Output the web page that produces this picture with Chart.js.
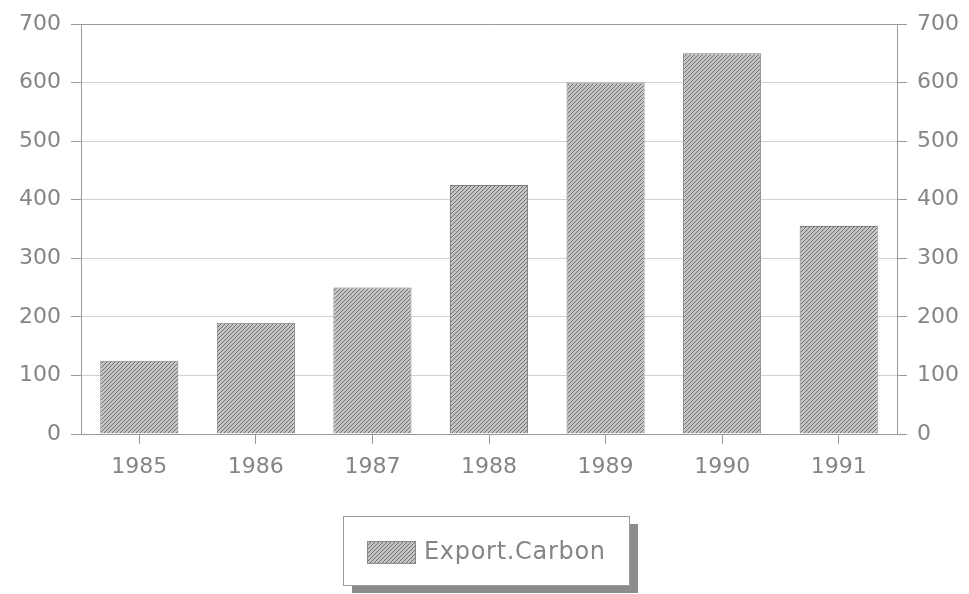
<!DOCTYPE html>
<html>
<head>
<meta charset="utf-8">
<script src="https://cdn.jsdelivr.net/npm/chart.js@4"></script>
<style>
  html, body { margin: 0; padding: 0; background: #fff; }
  #wrap { width: 969px; height: 594px; }
</style>
</head>
<body>
<div id="wrap"><canvas id="chart" width="969" height="594"></canvas></div>
<script>
const years = ["1985", "1986", "1987", "1988", "1989", "1990", "1991"];
const exportCarbon = [125, 190, 250, 425, 600, 650, 355];
const seriesName = "Export.Carbon";
const axisMax = 700;
const axisStep = 100;

const TEXT = "#858585";
const FONT = "DejaVu Sans";

// diagonal hatch used for the bars and the legend swatch
function makeHatch() {
    const c = document.createElement("canvas");
    c.width = 4;
    c.height = 4;
    const g = c.getContext("2d");
    for (let x = 0; x < 4; x++) {
        for (let y = 0; y < 4; y++) {
            g.fillStyle = (x + y) % 4 === 0 ? "#6c6c6c" : "#c6c6c6";
            g.fillRect(x, y, 1, 1);
        }
    }
    return g.createPattern(c, "repeat");
}
const hatch = makeHatch();

// boxed legend with a drop shadow, centred under the plot
const boxLegend = {
    id: "boxLegend",
    afterDraw(chart) {
        const ctx = chart.ctx;
        const x = 343, y = 516, w = 286, h = 69;
        ctx.save();
        ctx.fillStyle = "#8c8c8c";
        ctx.fillRect(x + 9, y + 8, w, h);
        ctx.fillStyle = "#fff";
        ctx.fillRect(x, y, w, h);
        ctx.strokeStyle = "#9a9a9a";
        ctx.lineWidth = 1;
        ctx.strokeRect(x + 0.5, y + 0.5, w, h);
        ctx.fillStyle = hatch;
        ctx.fillRect(x + 24, y + 25, 48, 22);
        ctx.strokeStyle = "#888";
        ctx.strokeRect(x + 24.5, y + 25.5, 48, 22);
        ctx.letterSpacing = "0.7px";
        ctx.fillStyle = TEXT;
        ctx.font = "24px '" + FONT + "'";
        ctx.textBaseline = "middle";
        ctx.textAlign = "left";
        ctx.fillText(seriesName, x + 81, y + 37);
        ctx.restore();
    }
};

function yAxis(position, width) {
    return {
        position: position,
        min: 0,
        max: axisMax,
        ticks: {
            stepSize: axisStep,
            color: TEXT,
            padding: 10,
            font: { family: FONT, size: 22 }
        },
        grid: {
            display: true,
            drawOnChartArea: position === "left",
            color: (c) => c.tick && c.tick.value === axisMax ? "#9a9a9a" : "#d2d2d2",
            tickColor: "#9a9a9a",
            tickLength: 10,
            lineWidth: 1
        },
        border: { display: true, color: "#9a9a9a" },
        afterFit(scale) { scale.width = width; }
    };
}

new Chart(document.getElementById("chart"), {
    type: "bar",
    data: {
        labels: years,
        datasets: [{
            label: seriesName,
            data: exportCarbon,
            backgroundColor: hatch,
            borderColor: "#7c7c7c",
            borderWidth: 1,
            categoryPercentage: 0.67,
            barPercentage: 1.0,
            yAxisID: "y"
        }]
    },
    options: {
        responsive: false,
        animation: false,
        layout: { padding: { top: 24, left: 0, right: 0, bottom: 0 } },
        plugins: {
            legend: { display: false },
            tooltip: { enabled: false }
        },
        scales: {
            x: {
                ticks: {
                    color: TEXT,
                    padding: 10,
                    font: { family: FONT, size: 22 }
                },
                grid: {
                    display: true,
                    offset: false,
                    drawOnChartArea: false,
                    tickColor: "#9a9a9a",
                    tickLength: 10
                },
                border: { display: true, color: "#9a9a9a" },
                afterFit(scale) { scale.height = 160; }
            },
            y: yAxis("left", 81),
            y2: yAxis("right", 72)
        }
    },
    plugins: [boxLegend]
});
</script>
</body>
</html>
